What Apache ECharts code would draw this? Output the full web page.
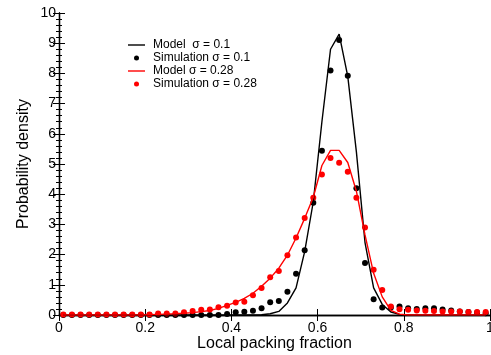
<!DOCTYPE html>
<html>
<head>
<meta charset="utf-8">
<script src="https://cdn.jsdelivr.net/npm/echarts@6/dist/echarts.min.js"></script>
<style>
  html, body { margin: 0; padding: 0; background: #fff; }
  #chart { width: 491px; height: 355px; }
</style>
</head>
<body>
<div id="chart"></div>
<script>
// bin centres of the local packing fraction histogram
const binCenters = [
  0.01, 0.03, 0.05, 0.07, 0.09, 0.11, 0.13, 0.15, 0.17, 0.19,
  0.21, 0.23, 0.25, 0.27, 0.29, 0.31, 0.33, 0.35, 0.37, 0.39,
  0.41, 0.43, 0.45, 0.47, 0.49, 0.51, 0.53, 0.55, 0.57, 0.59,
  0.61, 0.63, 0.65, 0.67, 0.69, 0.71, 0.73, 0.75, 0.77, 0.79,
  0.81, 0.83, 0.85, 0.87, 0.89, 0.91, 0.93, 0.95, 0.97, 0.99
];
// sigma = 0.1
const model01 = [
  0, 0, 0, 0, 0, 0, 0, 0, 0, 0,
  0, 0, 0, 0, 0, 0, 0, 0, 0, 0,
  0, 0, 0, 0.01, 0.04, 0.12, 0.4, 0.9, 2.1, 3.75,
  6.4, 8.8, 9.3, 7.9, 5.4, 2.4, 0.9, 0.35, 0.1, 0.02,
  0, 0, 0, 0, 0, 0, 0, 0, 0, 0
];
const sim01 = [
  0, 0, 0, 0, 0, 0, 0, 0, 0, 0,
  0, 0, 0, 0, 0, 0, 0, 0, 0, 0.03,
  0.09, 0.11, 0.14, 0.22, 0.42, 0.46, 0.77, 1.37, 2.14, 3.72,
  5.44, 8.1, 9.11, 7.92, 4.2, 1.72, 0.52, 0.25, 0.25, 0.28,
  0.22, 0.2, 0.22, 0.22, 0.18, 0.15, 0.12, 0.1, 0.08, 0.06
];
// sigma = 0.28
const model028 = [
  0, 0, 0, 0, 0, 0, 0, 0, 0, 0,
  0.01, 0.02, 0.03, 0.04, 0.06, 0.08, 0.11, 0.15, 0.22, 0.32,
  0.42, 0.55, 0.72, 0.95, 1.22, 1.55, 1.98, 2.55, 3.2, 3.9,
  4.95, 5.45, 5.45, 5.05, 4.1, 2.65, 1.38, 0.6, 0.15, 0.03,
  0, 0, 0, 0, 0, 0, 0, 0, 0, 0
];
const sim028 = [
  0.02, 0.02, 0.02, 0.02, 0.02, 0.02, 0.02, 0.02, 0.02, 0.02,
  0.02, 0.05, 0.05, 0.05, 0.09, 0.13, 0.17, 0.18, 0.26, 0.31,
  0.41, 0.44, 0.65, 0.89, 1.25, 1.46, 1.98, 2.57, 3.21, 3.88,
  4.65, 5.2, 5.04, 4.74, 3.88, 2.9, 1.5, 0.83, 0.28, 0.19,
  0.17, 0.15, 0.14, 0.13, 0.12, 0.12, 0.12, 0.1, 0.1, 0.1
];
const seriesNames = ['Model  σ = 0.1', 'Simulation σ = 0.1', 'Model σ = 0.28', 'Simulation σ = 0.28'];

function pairs(ys) { return binCenters.map((x, i) => [x, ys[i]]); }

const FONT = '"Liberation Sans", Arial, sans-serif';
const axisLine = { lineStyle: { color: '#000', width: 1.3 } };
// legend icons: a thin bar for the model lines (box kept 17x5 by the extra moveTo points)
const LINE_ICON = 'path://M0,0 M17,5 M0,1.8 L17,1.8 L17,3.2 L0,3.2 Z';

const c = echarts.init(document.getElementById('chart'), null, { renderer: 'canvas' });
c.setOption({
  animation: false,
  backgroundColor: '#fff',
  textStyle: { fontFamily: FONT },
  grid: { left: 59, right: 1, top: 13, bottom: 40, outerBoundsMode: 'none', containLabel: false },
  legend: {
    orient: 'vertical', left: 123, top: 34,
    itemWidth: 17, itemHeight: 5, itemGap: 1,
    textStyle: { fontFamily: FONT, fontSize: 12, color: '#000', lineHeight: 12, padding: [0, 0, 0, 3] },
    data: [
      { name: seriesNames[0], icon: LINE_ICON },
      { name: seriesNames[1], icon: 'circle' },
      { name: seriesNames[2], icon: LINE_ICON },
      { name: seriesNames[3], icon: 'circle' }
    ]
  },
  xAxis: [
    { type: 'value', min: 0, max: 1, interval: 0.2,
      name: 'Local packing fraction', nameLocation: 'middle', nameGap: 21, nameMoveOverlap: false,
      nameTextStyle: { fontFamily: FONT, fontSize: 16, color: '#000' },
      axisLine: axisLine, axisTick: { inside: true, length: 6, lineStyle: { color: '#000' } },
      axisLabel: { color: '#000', fontSize: 14, margin: 6 }, splitLine: { show: false } },
    { type: 'value', min: 0, max: 1, interval: 0.2, position: 'top',
      axisLine: axisLine, axisTick: { inside: true, length: 6, lineStyle: { color: '#000' } },
      axisLabel: { show: false }, splitLine: { show: false } }
  ],
  yAxis: [
    { type: 'value', min: 0, max: 10, interval: 1,
      name: 'Probability density', nameLocation: 'middle', nameGap: 27, nameMoveOverlap: false,
      nameTextStyle: { fontFamily: FONT, fontSize: 16, color: '#000' },
      axisLine: axisLine, axisTick: { inside: true, length: 6, lineStyle: { color: '#000' } },
      minorTick: { show: true, splitNumber: 5, length: 3, lineStyle: { color: '#000' } },
      axisLabel: { color: '#000', fontSize: 14, margin: 3 }, splitLine: { show: false } },
    { type: 'value', min: 0, max: 10, interval: 1, position: 'right',
      axisLine: axisLine, axisTick: { inside: true, length: 6, lineStyle: { color: '#000' } },
      minorTick: { show: true, splitNumber: 5, length: 3, lineStyle: { color: '#000' } },
      axisLabel: { show: false }, splitLine: { show: false } }
  ],
  series: [
    { name: seriesNames[0], type: 'line', data: pairs(model01), symbol: 'none',
      itemStyle: { color: '#000' }, lineStyle: { color: '#000', width: 1.4 } },
    { name: seriesNames[1], type: 'scatter', data: pairs(sim01), symbol: 'circle', symbolSize: 6,
      itemStyle: { color: '#000', opacity: 1 } },
    { name: seriesNames[2], type: 'line', data: pairs(model028), symbol: 'none',
      itemStyle: { color: '#ff0000' }, lineStyle: { color: '#ff0000', width: 1.4 } },
    { name: seriesNames[3], type: 'scatter', data: pairs(sim028), symbol: 'circle', symbolSize: 6,
      itemStyle: { color: '#ff0000', opacity: 1 } }
  ]
});
</script>
</body>
</html>
